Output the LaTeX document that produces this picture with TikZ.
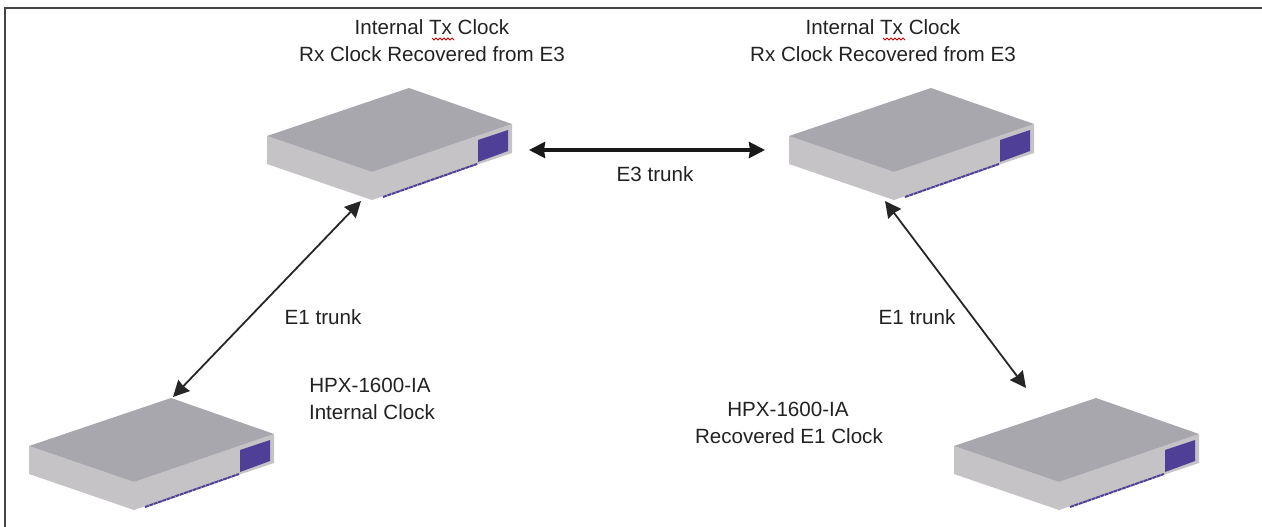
\documentclass[tikz,border=0pt]{standalone}
\usepackage{fontspec}
\setmainfont{Liberation Sans}
\usetikzlibrary{arrows.meta}
\definecolor{devtop}{HTML}{A9A7AE}
\definecolor{devside}{HTML}{C5C3C5}
\definecolor{devblue}{HTML}{4F3F96}
\definecolor{frameline}{HTML}{444444}
\definecolor{txtc}{HTML}{222222}
\tikzset{
  x=1pt,y=-1pt,
  lbl/.style={font=\fontsize{20.6}{24}\selectfont,text=txtc,inner sep=0pt,align=center},
  lbll/.style={lbl,anchor=west,align=left},
  thintrunk/.style={draw=black!85,line width=1.8pt,{Stealth[length=16pt,width=16pt,inset=1pt]}-{Stealth[length=16pt,width=16pt,inset=1pt]}},
  thicktrunk/.style={draw=black!90,line width=3.4pt,{Stealth[length=16pt,width=16pt,inset=1pt]}-{Stealth[length=16pt,width=16pt,inset=1pt]}},
  frameedge/.style={draw=frameline,line width=2.2pt},
  device/.pic={
    \fill[devside] (-142,48) -- (-37,84) -- (103,36) -- (103,65) -- (-37,112) -- (-142,76) -- cycle;
    \fill[devtop] (0,0) -- (103,36) -- (-37,84) -- (-142,48) -- cycle;
    \fill[devblue] (69,52) -- (99,42) -- (99,63) -- (69,74) -- cycle;
    \draw[devblue,line width=2pt,dash pattern=on 4pt off 0.6pt] (-26,109) -- (68,76);
  }
}
\begin{document}
\begin{tikzpicture}
\useasboundingbox (0,0) rectangle (1262,527);
\coordinate (fbl) at (5,527);
\coordinate (ftl) at (5,8);
\coordinate (ftr) at (1262,8);
\draw[frameedge] (fbl) -- (ftl) -- (ftr);

\pic (d1) at (409,88) {device};
\pic (d2) at (931,88) {device};
\pic (d3) at (171,398) {device};
\pic (d4) at (1096,398) {device};

\coordinate (e3a) at (529,150);
\coordinate (e3b) at (765,150);
\coordinate (e1a) at (361,201);
\coordinate (e1b) at (173,397);
\coordinate (e1c) at (885,201);
\coordinate (e1d) at (1026,388);
\draw[thicktrunk] (e3a) -- (e3b);
\draw[thintrunk] (e1a) -- (e1b);
\draw[thintrunk] (e1c) -- (e1d);

\node[lbl] (t1a) at (432,27) {Internal Tx Clock};
\node[lbl] (t1b) at (432,54) {Rx Clock Recovered from E3};
\node[lbl] (t2a) at (883,27) {Internal Tx Clock};
\node[lbl] (t2b) at (883,54) {Rx Clock Recovered from E3};
\node[lbl] (e3t) at (655,174) {E3 trunk};
\node[lbl] (e1l) at (323,317) {E1 trunk};
\node[lbl] (e1r) at (917,317) {E1 trunk};
\node[lbl] (h1a) at (370,385) {HPX-1600-IA};
\node[lbl] (h1b) at (372,412) {Internal Clock};
\node[lbl] (h2a) at (788,409) {HPX-1600-IA};
\node[lbl] (h2b) at (789,436) {Recovered E1 Clock};

\draw[red!80!black,line width=0.8pt] (432,38) -- (434,40) -- (436,38) -- (438,40) -- (440,38) -- (442,40) -- (444,38) -- (446,40) -- (448,38) -- (450,40) -- (452,38) -- (454,40);
\draw[red!80!black,line width=0.8pt] (883,38) -- (885,40) -- (887,38) -- (889,40) -- (891,38) -- (893,40) -- (895,38) -- (897,40) -- (899,38) -- (901,40) -- (903,38) -- (905,40);
\end{tikzpicture}
\end{document}
